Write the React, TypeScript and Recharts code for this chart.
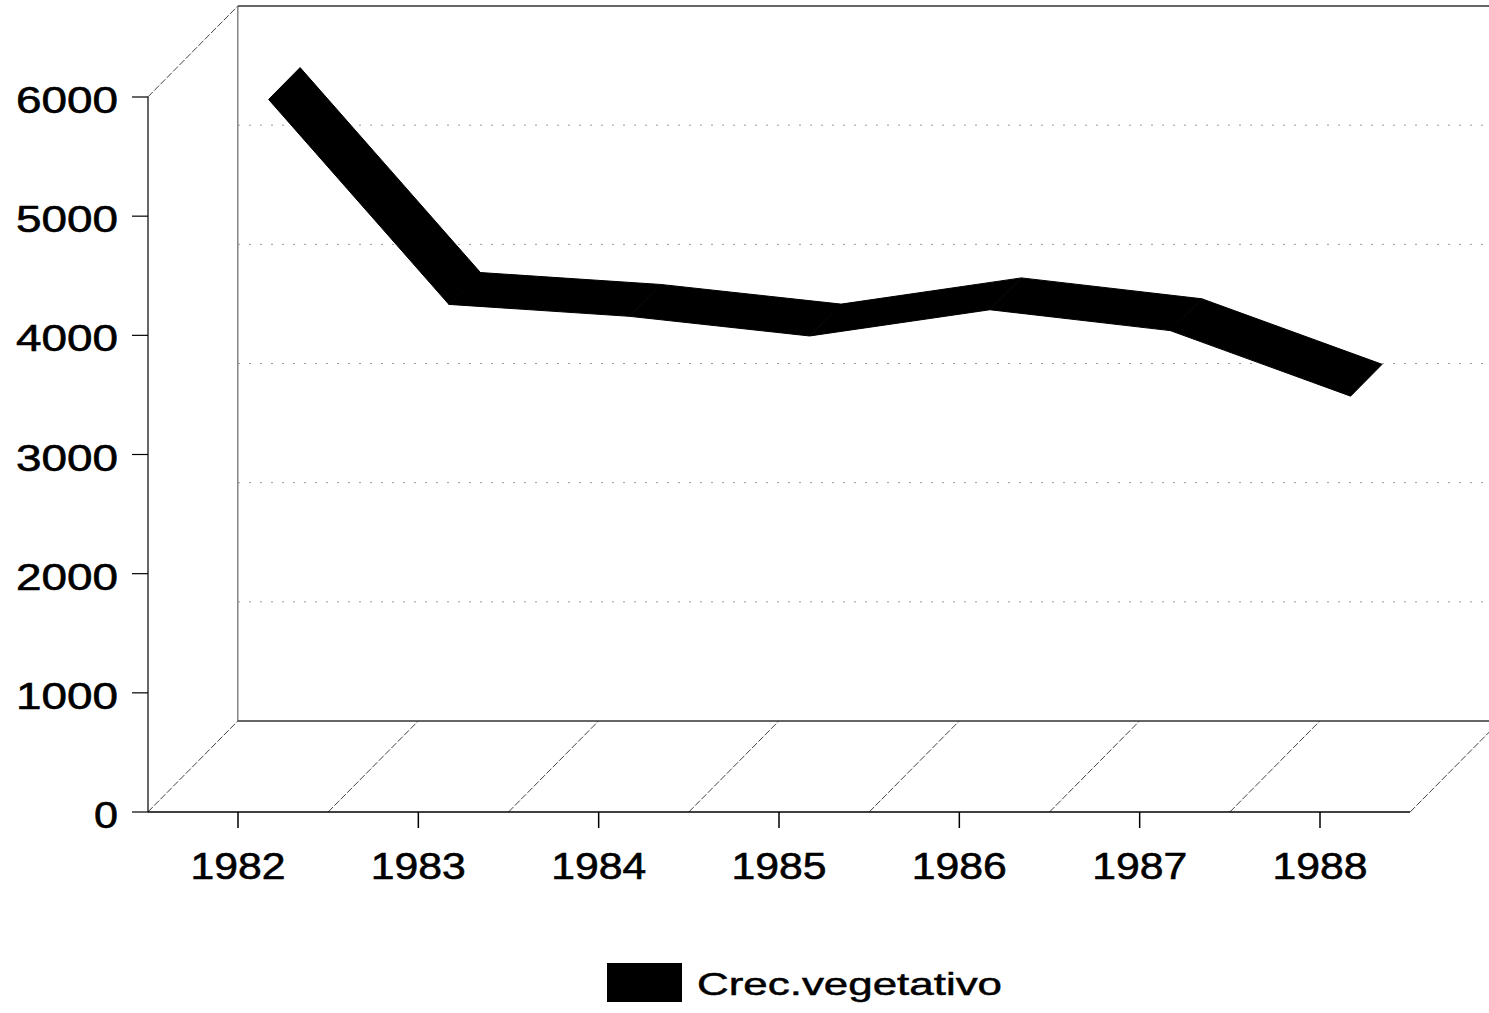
import React from 'react'
import {
  LineChart,
  Line,
  XAxis,
  YAxis,
  ReferenceLine,
  ReferenceArea,
  Legend,
} from 'recharts'

/* ---------- data ---------- */

const years = ['1982', '1983', '1984', '1985', '1986', '1987', '1988']
const crecVegetativo = [5720, 4000, 3900, 3735, 3955, 3780, 3230]
const yTicks = [0, 1000, 2000, 3000, 4000, 5000, 6000]
const wallGrid = [1000, 2000, 3000, 4000, 5000]
const seriesName = 'Crec.vegetativo'

const data = years.map((year, i) => ({ year, crec: crecVegetativo[i] }))

/* ---------- look ---------- */

const FONT = '"Liberation Sans", Arial, Helvetica, sans-serif'
const W = 1489
const H = 1013
// depth of the fake 3D box (back wall is shifted up/right by this much)
const DX = 90
const DY = 91
// ribbon sits between these fractions of the depth
const RIB_FRONT = 0.34
const RIB_BACK = 0.69

function YTick({ x, y, payload }: any) {
  const label = String(payload.value)
  return (
    <text
      x={x - 12}
      y={y + 16}
      textAnchor="end"
      fontFamily={FONT}
      fontSize={37}
      fill="#000"
      stroke="#000"
      strokeWidth={0.6}
      textLength={label.length === 1 ? 24 : 102}
      lengthAdjust="spacingAndGlyphs"
    >
      {label}
    </text>
  )
}

function XTick({ x, y, payload }: any) {
  return (
    <text
      x={x}
      y={y + 49}
      textAnchor="middle"
      fontFamily={FONT}
      fontSize={37}
      fill="#000"
      stroke="#000"
      strokeWidth={0.6}
      textLength={95}
      lengthAdjust="spacingAndGlyphs"
    >
      {payload.value}
    </text>
  )
}

/* the open box: back wall, floor and the depth diagonals */
function Frame(props: any) {
  const { x, y, width, height } = props
  const band = width / (years.length - 1)
  const left = x - band / 2
  const right = x + width + band / 2
  const top = y
  const bottom = y + height
  const diag = []
  for (let k = 0; k <= years.length; k++) {
    const fx = left + k * band
    diag.push(
      <line
        key={k}
        x1={fx}
        y1={bottom}
        x2={fx + DX}
        y2={bottom - DY}
        stroke="#444"
        strokeWidth={1}
        strokeDasharray="7 2"
      />
    )
  }
  return (
    <g>
      {diag}
      {/* top-left depth edge */}
      <line x1={left} y1={top} x2={left + DX} y2={top - DY} stroke="#444" strokeWidth={1} strokeDasharray="7 2" />
      {/* back wall */}
      <line x1={left + DX} y1={top - DY} x2={left + DX} y2={bottom - DY} stroke="#666" strokeWidth={1.2} />
      <line x1={left + DX} y1={top - DY} x2={right + DX} y2={top - DY} stroke="#333" strokeWidth={1.5} />
      <line x1={left + DX} y1={bottom - DY} x2={right + DX} y2={bottom - DY} stroke="#333" strokeWidth={1.5} />
    </g>
  )
}

function WallGridLine(props: any) {
  const { x1, y1, x2, y2 } = props
  return (
    <line
      x1={x1 + DX}
      y1={y1 - DY}
      x2={x2 + DX}
      y2={y2 - DY}
      stroke="#9a9a9a"
      strokeWidth={1}
      strokeDasharray="2 9"
    />
  )
}

/* the thick 3D ribbon, built from the line's own points */
function Ribbon(props: any) {
  const { index, points } = props
  if (index !== 0 || !points) return <g />
  const fx = DX * RIB_FRONT
  const fy = DY * RIB_FRONT
  const bx = DX * RIB_BACK
  const by = DY * RIB_BACK
  const polys = []
  for (let i = 0; i < points.length - 1; i++) {
    const a = points[i]
    const b = points[i + 1]
    const pts = [
      [a.x + fx, a.y - fy],
      [b.x + fx, b.y - fy],
      [b.x + bx, b.y - by],
      [a.x + bx, a.y - by],
    ]
      .map((p) => p.join(','))
      .join(' ')
    polys.push(
      <polygon key={i} points={pts} fill="#000" stroke="#000" strokeWidth={1} strokeLinejoin="round" />
    )
  }
  return <g>{polys}</g>
}

function LegendBox() {
  return (
    <svg width={W} height={63} style={{ display: 'block' }}>
      <rect x={607} y={13} width={75} height={39} fill="#000" />
      <text
        x={697}
        y={45}
        fontFamily={FONT}
        fontSize={32}
        fill="#000"
        stroke="#000"
        strokeWidth={0.5}
        textLength={305}
        lengthAdjust="spacingAndGlyphs"
      >
        {seriesName}
      </text>
    </svg>
  )
}

export default function App() {
  return (
    <div style={{ position: 'absolute', left: 0, top: 0, width: W, height: H, background: '#fff' }}>
      <LineChart width={W} height={H} data={data} margin={{ top: 97, right: 79, bottom: 0, left: 0 }}>
        <XAxis
          dataKey="year"
          height={201}
          padding={{ left: 90, right: 90 }}
          axisLine={{ stroke: '#000', strokeWidth: 1.5 }}
          tickLine={{ stroke: '#000', strokeWidth: 1.5 }}
          tickSize={16}
          tick={<XTick />}
          interval={0}
        />
        <YAxis
          width={148}
          domain={[0, 6000]}
          ticks={yTicks}
          axisLine={{ stroke: '#000', strokeWidth: 1.2 }}
          tickLine={{ stroke: '#000', strokeWidth: 1.2 }}
          tickSize={16}
          tick={<YTick />}
          interval={0}
        />
        <ReferenceArea
          x1={years[0]}
          x2={years[years.length - 1]}
          y1={0}
          y2={6000}
          shape={<Frame />}
        />
        {wallGrid.map((v) => (
          <ReferenceLine key={v} y={v} shape={<WallGridLine />} />
        ))}
        <Line
          dataKey="crec"
          name={seriesName}
          stroke="none"
          dot={<Ribbon />}
          activeDot={false}
          isAnimationActive={false}
        />
        <Legend
          verticalAlign="middle"
          align="center"
          layout="horizontal"
          wrapperStyle={{ left: 0, top: 950, width: W, height: 63 }}
          content={<LegendBox />}
        />
      </LineChart>
    </div>
  )
}
